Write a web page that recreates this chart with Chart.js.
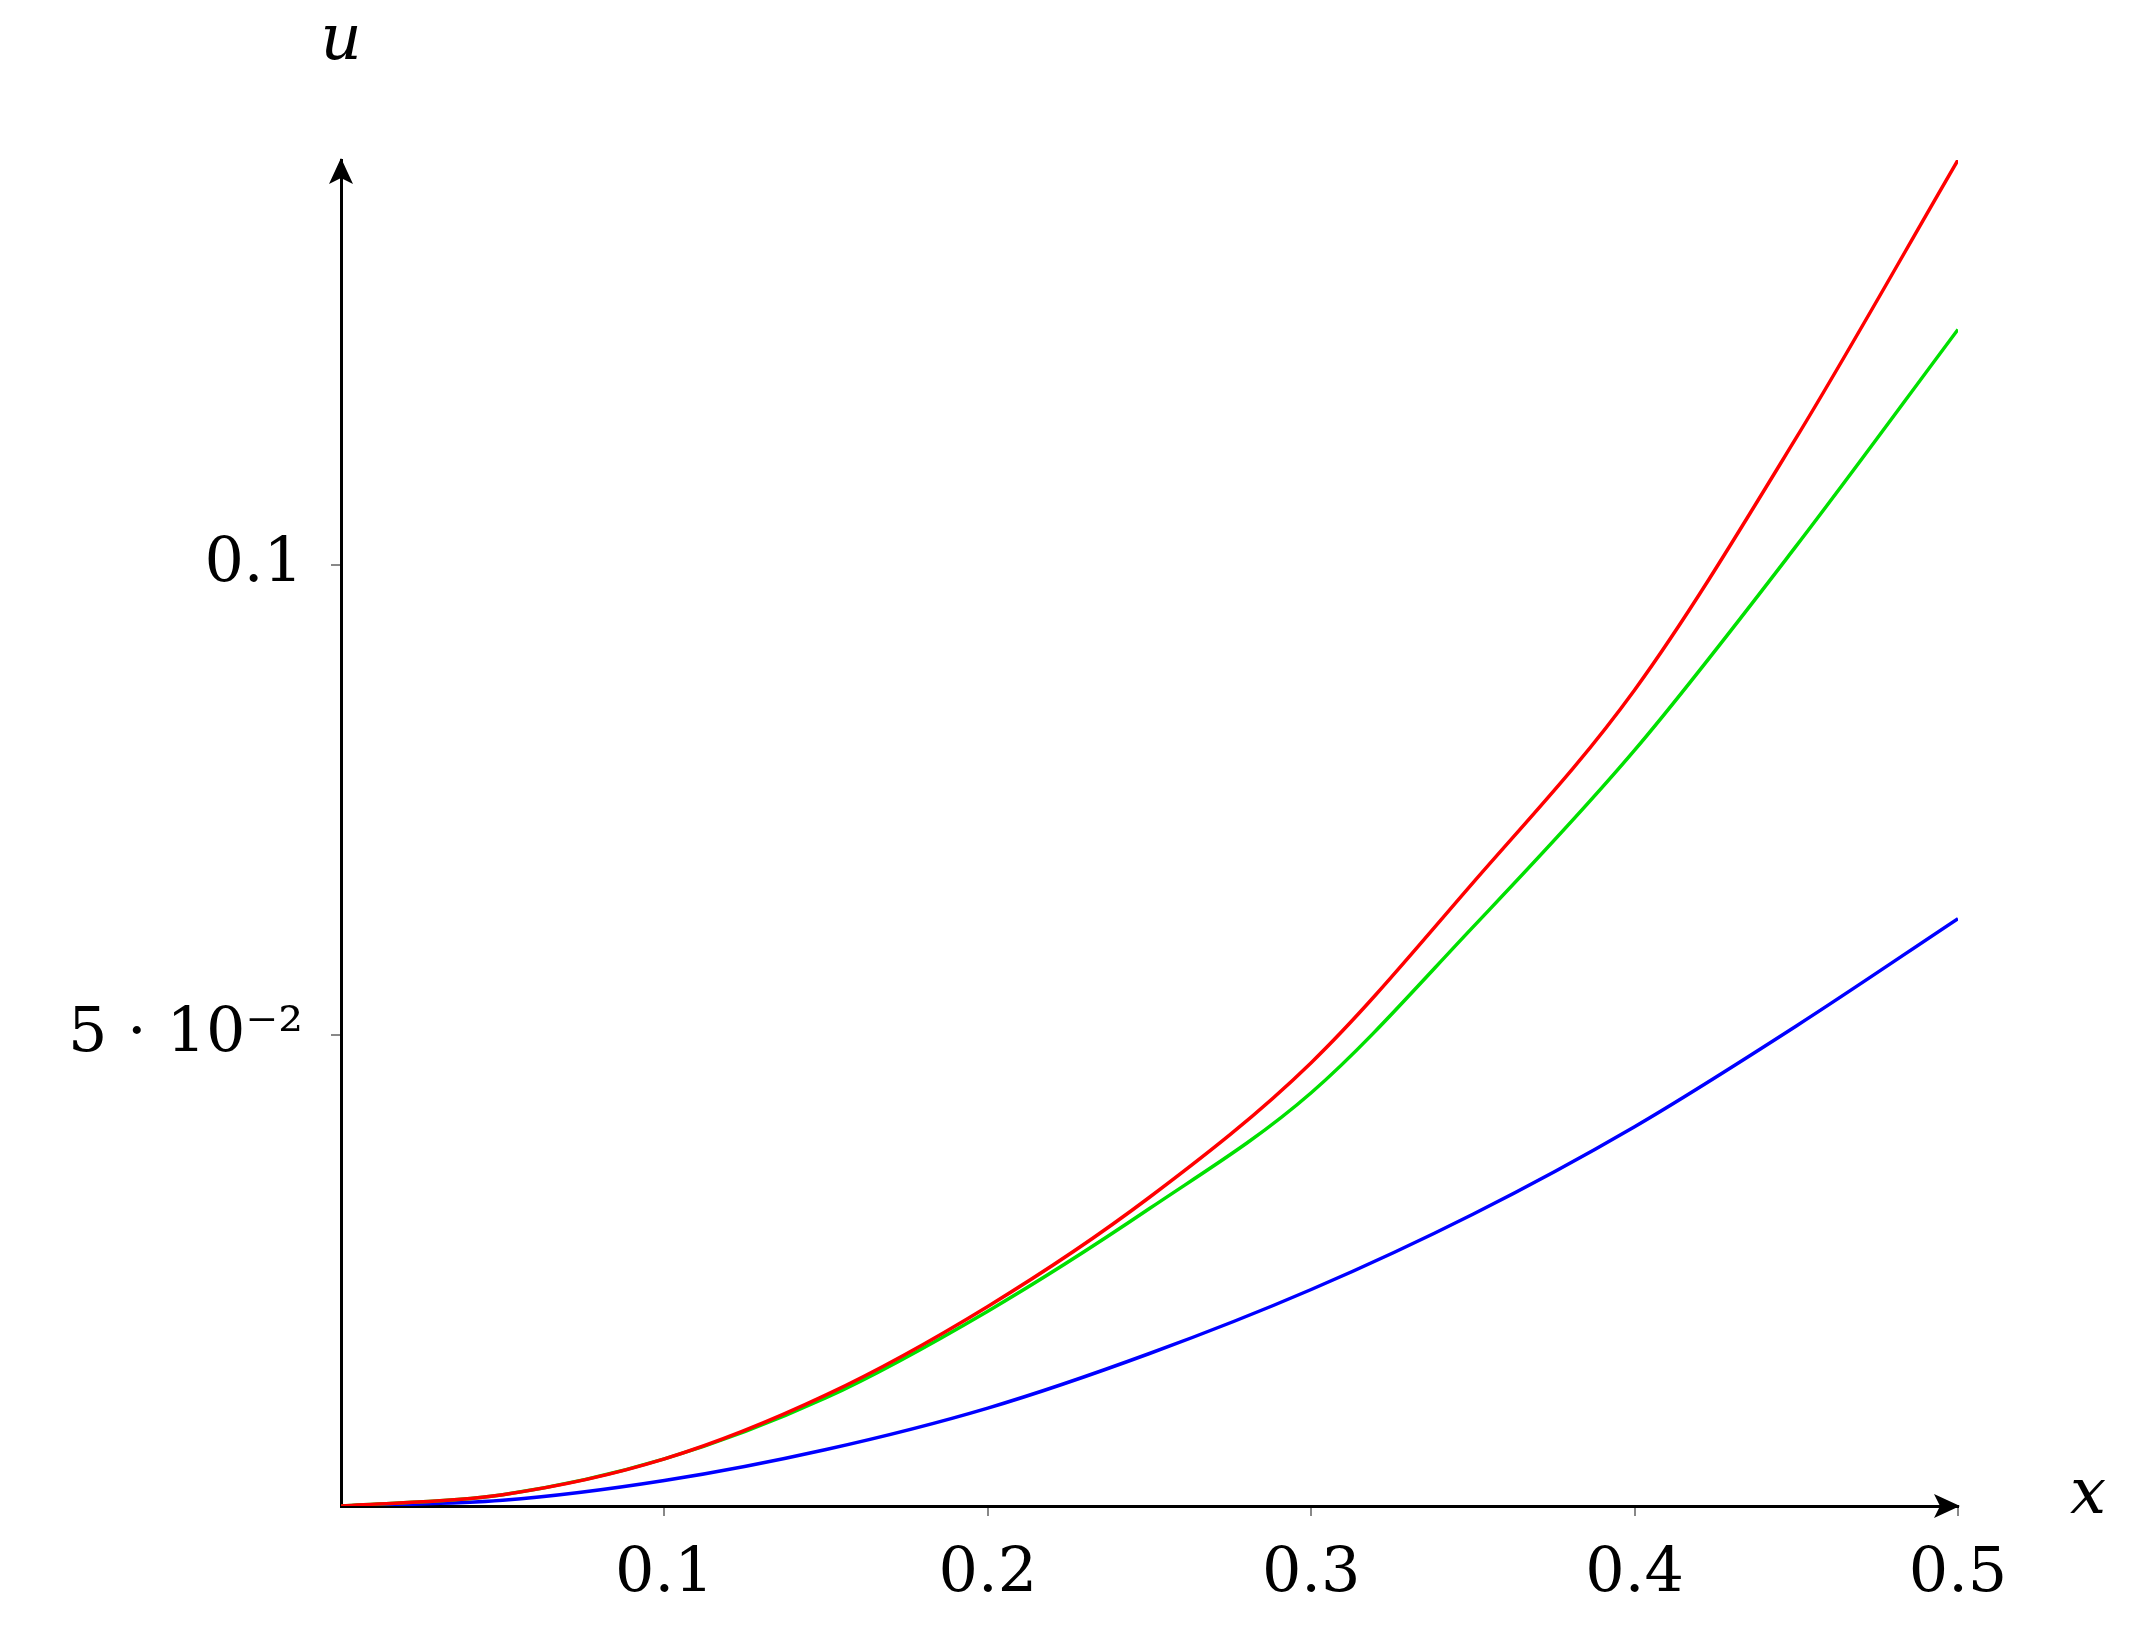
<!DOCTYPE html>
<html>
<head>
<meta charset="utf-8">
<script src="https://cdn.jsdelivr.net/npm/chart.js@4"></script>
<style>
  html, body { margin: 0; padding: 0; background: #fff; }
  #wrap { width: 2131px; height: 1635px; }
</style>
</head>
<body>
<div id="wrap"><canvas id="chart" width="2131" height="1635"></canvas></div>
<script>
// values
const xs = [0, 0.05, 0.1, 0.15, 0.2, 0.25, 0.3, 0.35, 0.4, 0.45, 0.5];
const redU = [0, 0.0012, 0.005, 0.0118, 0.0212, 0.0328, 0.0471, 0.0662, 0.0867, 0.1135, 0.143];
const greenU = [0, 0.0012, 0.005, 0.0115, 0.0207, 0.0316, 0.0439, 0.0615, 0.0803, 0.102, 0.125];
const blueU = [0, 0.0006, 0.0027, 0.006, 0.0104, 0.0162, 0.023, 0.031, 0.0403, 0.051, 0.0624];
const xTicks = [0.1, 0.2, 0.3, 0.4, 0.5];
const yTicks = [0.05, 0.1];
const yTickLabels = { 0.05: '5 \u00b7 10\u207b\u00b2', 0.1: '0.1' };

const serif = '"DejaVu Serif", "Liberation Serif", serif';

function pts(ys) {
  return xs.map((x, i) => ({ x: x, y: ys[i] }));
}

function series(label, color, ys) {
  return {
    label: label,
    data: pts(ys),
    borderColor: color,
    backgroundColor: color,
    borderWidth: 3.5,
    pointRadius: 0,
    fill: false,
    cubicInterpolationMode: 'monotone'
  };
}

// arrows on the axes plus the u / x labels
const axisArrows = {
  id: 'axisArrows',
  afterDraw(chart) {
    const ctx = chart.ctx;
    const a = chart.chartArea;
    ctx.save();
    ctx.fillStyle = '#000';
    // x arrow
    ctx.beginPath();
    ctx.moveTo(a.right + 2, a.bottom);
    ctx.lineTo(a.right - 24, a.bottom - 12);
    ctx.lineTo(a.right - 18, a.bottom);
    ctx.lineTo(a.right - 24, a.bottom + 12);
    ctx.closePath();
    ctx.fill();
    // y arrow
    ctx.beginPath();
    ctx.moveTo(a.left, a.top - 2);
    ctx.lineTo(a.left - 12, a.top + 24);
    ctx.lineTo(a.left, a.top + 18);
    ctx.lineTo(a.left + 12, a.top + 24);
    ctx.closePath();
    ctx.fill();
    ctx.font = 'italic 64px ' + serif;
    ctx.textAlign = 'center';
    ctx.textBaseline = 'middle';
    ctx.fillText('x', a.right + 130, a.bottom - 10);
    ctx.fillText('u', a.left, a.top - 118);
    ctx.restore();
  }
};

new Chart(document.getElementById('chart'), {
  type: 'line',
  data: {
    datasets: [
      series('red', '#ff0000', redU),
      series('green', '#00e000', greenU),
      series('blue', '#0000ff', blueU)
    ]
  },
  options: {
    responsive: false,
    animation: false,
    layout: { padding: { top: 160, right: 173, left: 0, bottom: 0 } },
    plugins: { legend: { display: false }, tooltip: { enabled: false } },
    scales: {
      x: {
        type: 'linear',
        min: 0,
        max: 0.5,
        afterFit(s) { s.height = 129; },
        afterBuildTicks(s) { s.ticks = xTicks.map(v => ({ value: v })); },
        border: { color: '#000', width: 3 },
        grid: { drawOnChartArea: false, color: '#888', tickLength: 10, lineWidth: 2 },
        ticks: {
          color: '#000',
          padding: 22,
          maxRotation: 0,
          font: { family: serif, size: 62 },
          callback: v => String(v)
        }
      },
      y: {
        type: 'linear',
        min: 0,
        max: 0.143,
        afterFit(s) { s.width = 341; },
        afterBuildTicks(s) { s.ticks = yTicks.map(v => ({ value: v })); },
        border: { color: '#000', width: 3 },
        grid: { drawOnChartArea: false, color: '#888', tickLength: 10, lineWidth: 2 },
        ticks: {
          color: '#000',
          padding: 28,
          font: { family: serif, size: 62 },
          callback: v => yTickLabels[v] || ''
        }
      }
    }
  },
  plugins: [axisArrows]
});
</script>
</body>
</html>
